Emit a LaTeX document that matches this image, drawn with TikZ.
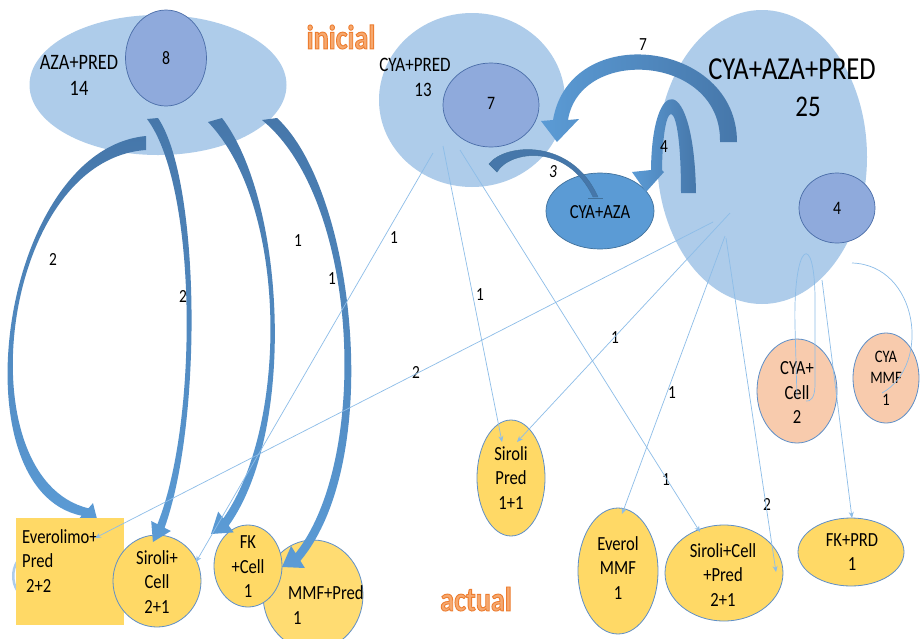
\documentclass[tikz,border=0pt]{standalone}
\usepackage{fontspec}
\setmainfont{Carlito}[FakeStretch=0.83]
\usetikzlibrary{shapes.geometric,arrows.meta}
\definecolor{lblue}{HTML}{AECCEA}
\definecolor{iblue}{HTML}{8FAADC}
\definecolor{iborder}{HTML}{4A6DA8}
\definecolor{mblue}{HTML}{5B9BD5}
\definecolor{dblue}{HTML}{41719C}
\definecolor{arrdark}{HTML}{4677AA}
\definecolor{thinc}{HTML}{8DBDE8}
\definecolor{yel}{HTML}{FFD966}
\definecolor{yellight}{HTML}{FFDC72}
\definecolor{peach}{HTML}{F8CBAD}
\definecolor{nodeborder}{HTML}{5E8FC8}
\definecolor{orngfill}{HTML}{F6A86E}
\newcommand{\outlined}[1]{\special{pdf:literal direct 2 Tr 0.9 w 0.93 0.49 0.19 RG}#1\special{pdf:literal direct 0 Tr}}
\tikzset{
  wh/.style 2 args={minimum width=#1, minimum height=#2},
  blob/.style={ellipse, draw=none, fill=lblue, inner sep=0},
  innerc/.style={ellipse, draw=iborder, line width=0.7pt, fill=iblue, inner sep=0},
  yelnode/.style={ellipse, draw=nodeborder, line width=0.8pt, fill=yel, inner sep=0},
  peachnode/.style={ellipse, draw=nodeborder, line width=0.8pt, fill=peach, inner sep=0},
  txt/.style={inner sep=0, align=center, font=\fontsize{20}{24.5}\selectfont},
  num/.style={inner sep=0, font=\fontsize{18.5}{20}\selectfont},
  thinline/.style={draw=thinc, line width=0.7pt},
  thinarrow/.style={thinline, -{Stealth[length=6pt,width=5pt]}},
  titletxt/.style={inner sep=0, font=\fontsize{34}{36}\bfseries\selectfont, text=orngfill},
  blockarrow/.style={top color=arrdark, bottom color=mblue, draw=none},
}
\begin{document}
\begin{tikzpicture}[x=1pt,y=-1pt]
\fill[white] (0,0) rectangle (922,638);
\useasboundingbox (0,0) rectangle (922,638);

% initial groups
\node[blob, wh={257pt}{140pt}] (aza) at (158,85) {};
\node[innerc, wh={81pt}{96pt}] (aza8) at (166,58) {};
\node[blob, wh={186pt}{174pt}] (cp) at (472,100) {};
\node[innerc, wh={96pt}{84pt}] (cp7) at (491,105) {};
\node[blob, wh={210pt}{294pt}] (cap) at (762,157) {};
\node[innerc, wh={76pt}{70pt}] (cap4) at (837,208) {};
\node[ellipse, fill=mblue, draw=dblue, line width=0.7pt, inner sep=0, wh={108pt}{76pt}] (ca) at (600,211) {};

% right-side current nodes
\node[yelnode, wh={68pt}{116pt}] (sp) at (511,478) {};
\node[yelnode, wh={80pt}{126pt}] (em) at (618,571) {};
\node[yelnode, wh={118pt}{96pt}] (scp) at (724,573) {};
\node[yelnode, wh={106pt}{68pt}] (fkp) at (851,552) {};
\node[peachnode, wh={80pt}{104pt}] (cyc) at (797,391) {};
\node[peachnode, wh={66pt}{90pt}] (cym) at (886,378) {};

% arrow L1 (to Everolimo)
\shade[blockarrow] (146,136) .. controls (0,150) and (-45,490) .. (81.7,515.7)
  -- (77,520.9) -- (98.3,524.1) -- (93,503.1) -- (88.4,508.3)
  .. controls (-36,478) and (0,160) .. (146,150) -- cycle;
\draw[lblue, line width=2.5pt] (17,562) .. controls (12,570) and (12,582) .. (17,590);
\node[rectangle, fill=yel, inner sep=0, wh={108pt}{107pt}] (ev) at (70,571.5) {};

% left current nodes
\node[yelnode, wh={88pt}{92pt}] (sc) at (157,581) {};
\node[yelnode, fill=yellight, wh={100pt}{110pt}] (mmf) at (313,595) {};
\node[yelnode, wh={68pt}{82pt}] (fkc) at (248,566) {};

% arrow L2 (to Siroli+Cell)
\shade[blockarrow] (158,118) .. controls (200,180) and (203,420) .. (164.6,527.8)
  -- (170.8,531) -- (152.9,542) -- (151.2,521) -- (157.4,524.2)
  .. controls (199,420) and (197,185) .. (147,119) -- cycle;
% arrow L3 (to FK+Cell)
\shade[blockarrow] (222,118) .. controls (285,200) and (297,430) .. (228.7,525.6)
  -- (233.8,532.4) -- (211,534) -- (218.2,511.6) -- (223.3,518.4)
  .. controls (289,425) and (288,205) .. (208,122) -- cycle;
% arrow L4 (to MMF+Pred)
\shade[blockarrow] (277,118) .. controls (355,190) and (385,460) .. (300.4,560.8)
  -- (304.9,568) -- (282,567) -- (291.1,546) -- (295.6,553.2)
  .. controls (370,460) and (360,200) .. (262,120) -- cycle;

% arrow 7
\shade[left color=mblue, right color=arrdark, draw=none]
  (737,142) .. controls (737,40) and (570,20) .. (553,120)
  -- (541,121) -- (557,142) -- (579,119) -- (568,120)
  .. controls (580,45) and (722,55) .. (720,142) -- cycle;
% arrow 4
\shade[left color=mblue, right color=arrdark, draw=none]
  (696,193) .. controls (694,72) and (652,72) .. (651,170)
  -- (632,172) -- (646,192) -- (664,172) -- (662,170)
  .. controls (663,92) and (681,92) .. (681,193) -- cycle;
% arrow 3
\path[fill=arrdark, draw=dblue, line width=0.4pt]
  (489,164) .. controls (505,143) and (572,138) .. (598,197)
  -- (593,197) .. controls (568,143) and (510,150) .. (497,172) -- cycle;
\draw[dblue, line width=0.6pt] (588,198) -- (603,198);

% texts
\node[txt, font=\fontsize{22}{26}\selectfont] (tAza) at (79,75) {AZA+PRED\\14};
\node[txt, font=\fontsize{19}{20}\selectfont] (t8) at (166,58) {8};
\node[txt, font=\fontsize{20.5}{22}\selectfont] (tCp) at (415,65) {CYA+PRED};
\node[txt, font=\fontsize{20.5}{22}\selectfont] (t13) at (423,90) {13};
\node[txt, font=\fontsize{19}{20}\selectfont] (t7) at (491,103) {7};
\node[txt, font=\fontsize{32}{34}\selectfont] (tCap) at (792,69) {CYA+AZA+PRED};
\node[txt, font=\fontsize{30}{32}\selectfont] (t25) at (808,107) {25};
\node[txt, font=\fontsize{19}{20}\selectfont] (t4) at (837,208) {4};
\node[txt, font=\fontsize{20}{22}\selectfont] (tCa) at (600,212) {CYA+AZA};
\node[txt, align=left, anchor=west] (tEv) at (22,561) {Everolimo+\\Pred\\\hspace{4pt}2+2};
\node[txt] (tSc) at (157,582) {Siroli+\\Cell\\2+1};
\node[txt] (tFk) at (248,567) {FK\\+Cell\\1};
\node[txt, align=left, anchor=west] (tMmf) at (288,605) {MMF+Pred\\\hspace{5pt}1};
\node[txt] (tSp) at (511,478) {Siroli\\Pred\\1+1};
\node[txt] (tEm) at (618,568) {Everol\\MMF\\1};
\node[txt] (tScp) at (723,575) {Siroli+Cell\\+Pred\\2+1};
\node[txt] (tFkp) at (852,552) {FK+PRD\\1};
\node[txt] (tCyc) at (797,393) {CYA+\\Cell\\2};
\node[txt, font=\fontsize{17.5}{21.5}\selectfont] (tCym) at (886,378) {CYA\\MMF\\1};
\node[titletxt] (inicial) at (341,37) {\outlined{inicial}};
\node[titletxt] (actual) at (476,599) {\outlined{actual}};

% number labels
\node[num] (n7) at (643,45) {7};
\node[num] (n4) at (664,147) {4};
\node[num, font=\fontsize{18.5}{20}\itshape\selectfont] (n3) at (553,172) {3};
\node[num] (nl1) at (53,259) {2};
\node[num] (nl2) at (183,296) {2};
\node[num] (nl3) at (298,241) {1};
\node[num] (nl4) at (332,279) {1};
\node[num] (nt1) at (394,238) {1};
\node[num] (nt4) at (416,372) {2};
\node[num] (nt2) at (480,295) {1};
\node[num] (nt5) at (615,338) {1};
\node[num] (nt6) at (672,393) {1};
\node[num] (nt3) at (666,480) {1};
\node[num] (nt7) at (767,504) {2};

% thin connectors
\coordinate (s1) at (433,153); \coordinate (e1) at (196,562);
\coordinate (s2) at (443,146); \coordinate (e2) at (502,442);
\coordinate (s3) at (460,150); \coordinate (e3) at (700,532);
\coordinate (s4) at (713,222); \coordinate (e4) at (95,538);
\coordinate (s5) at (730,213); \coordinate (e5) at (517,442);
\coordinate (s6) at (725,236); \coordinate (e6) at (622,514);
\coordinate (s7) at (726,238); \coordinate (e7) at (776,572);
\coordinate (s8) at (822,280); \coordinate (e8) at (852,518);
\draw[thinarrow] (s1) -- (e1);
\draw[thinarrow] (s2) -- (e2);
\draw[thinarrow] (s3) -- (e3);
\draw[thinarrow] (s4) -- (e4);
\draw[thinarrow] (s5) -- (e5);
\draw[thinarrow] (s6) -- (e6);
\draw[thinarrow] (s7) -- (e7);
\draw[thinarrow] (s8) -- (e8);
\coordinate (lp1) at (797,398); \coordinate (lp2) at (806,401);
\draw[thinline] (lp1) -- (795,326) .. controls (793,240) and (815,230) .. (815,300)
  -- (815,385) .. controls (815,398) and (810,402) .. (lp2);
\coordinate (cm1) at (852,263); \coordinate (cm2) at (882,393);
\draw[thinline] (cm1) .. controls (918,265) and (932,365) .. (cm2);
\end{tikzpicture}
\end{document}
